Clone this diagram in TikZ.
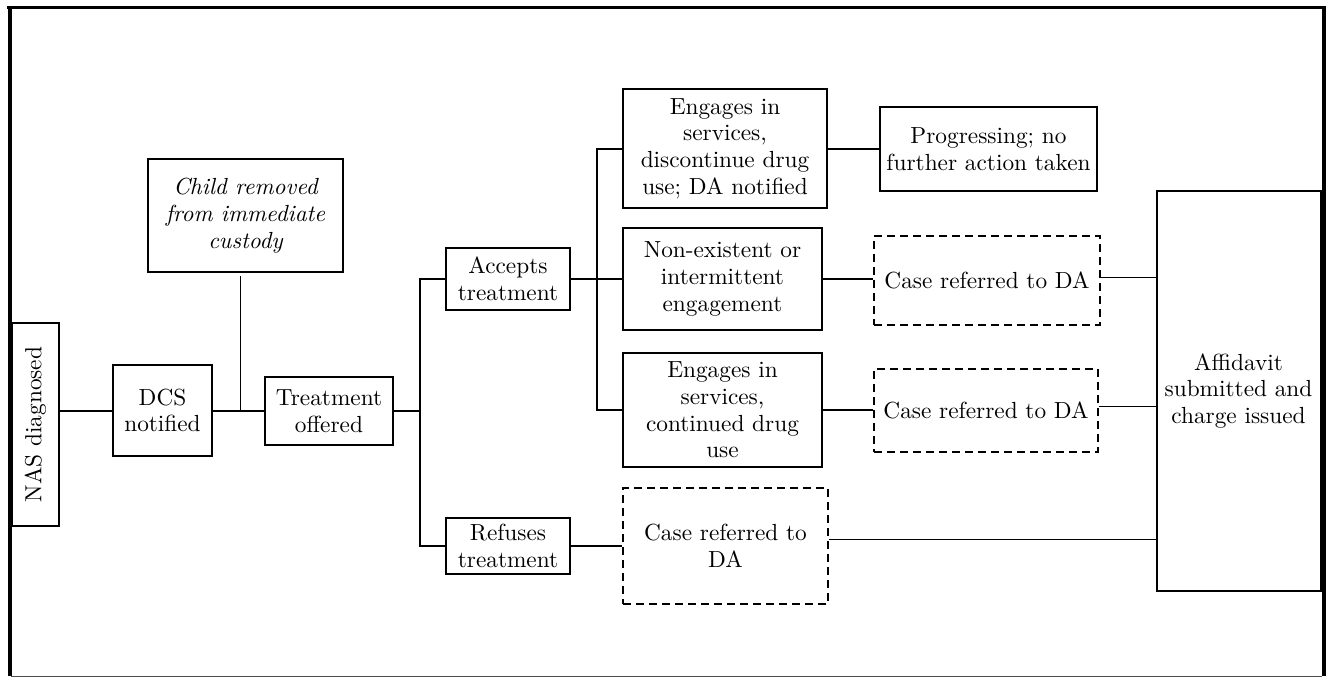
\documentclass[tikz,border=0pt]{standalone}
\usepackage{fontspec}
\setmainfont{lmroman10-regular}[Extension=.otf,ItalicFont=lmroman10-italic]
\usetikzlibrary{calc}
\begin{document}
\begin{tikzpicture}[x=1pt,y=-1pt,
  every node/.style={font=\fontsize{23.3}{26.7}\selectfont},
  box/.style={draw,line width=2pt,inner sep=0pt,align=center},
  dbox/.style={box,dash pattern=on 8pt off 5pt},
  conn/.style={line width=2pt},
  thinconn/.style={line width=1pt}]
\useasboundingbox (0,0) rectangle (1330,677);
% frame
\draw[line width=3pt] (7,8) -- (1326,8);
\draw[line width=4pt] (9.5,6.5) -- (9.5,676);
\draw[line width=4pt] (1324,6.5) -- (1324,676);
\draw[line width=1pt,black!70] (11,676) -- (1322,676);
% nodes
\node[box,rotate=90,minimum width=203pt,minimum height=47pt] (nas) at (35.5,424.5) {NAS diagnosed};
\node[box,minimum width=99pt,minimum height=91pt] (dcs) at (162.5,410.5) {DCS\\notified};
\node[box,minimum width=195pt,minimum height=113pt,font=\fontsize{23.3}{26.7}\selectfont\itshape] (child) at (245.5,215.5) {Child removed\\from immediate\\custody};
\node[box,minimum width=128pt,minimum height=68pt] (treat) at (329,411) {Treatment\\offered};
\node[box,minimum width=124pt,minimum height=62pt] (acc) at (508,279) {Accepts\\treatment};
\node[box,minimum width=124pt,minimum height=56pt] (ref) at (508,546) {Refuses\\treatment};
\node[box,minimum width=204pt,minimum height=119pt] (eng1) at (725,148.5) {Engages in\\services,\\discontinue drug\\use; DA notified};
\node[box,minimum width=199pt,minimum height=102pt] (non) at (722.5,279) {Non-existent or\\intermittent\\engagement};
\node[box,minimum width=199pt,minimum height=114pt] (eng2) at (722.5,410) {Engages in\\services,\\continued drug\\use};
\node[dbox,minimum width=205pt,minimum height=116pt] (case0) at (725.5,546) {Case referred to\\DA};
\node[box,minimum width=217pt,minimum height=84pt] (prog) at (988.5,149) {Progressing; no\\further action taken};
\node[dbox,minimum width=226pt,minimum height=89pt] (case1) at (987,280.5) {Case referred to DA};
\node[dbox,minimum width=224pt,minimum height=83pt] (case2) at (986,410.5) {Case referred to DA};
\node[box,minimum width=164pt,minimum height=400pt] (aff) at (1238.5,391) {Affidavit\\submitted and\\charge issued};
% junction coordinates
\coordinate (j1) at (240,410.5);
\coordinate (b1) at (419.5,411);
\coordinate (b2) at (597,279);
% connectors
\draw[conn] (nas.south |- dcs.west) -- (dcs.west);
\draw[conn] (dcs.east) -- (dcs.east -| treat.west);
\draw[thinconn] ($(child.south -| j1)+(0,3)$) -- (j1);
\draw[conn] (treat.east) -- (b1);
\draw[conn] (acc.west) -| (b1) |- (ref.west);
\draw[conn] (acc.east) -- (b2);
\draw[conn] (eng1.west) -| (b2) |- (eng2.west);
\draw[conn] (b2) -- (non.west);
\draw[conn] (eng1.east) -- (eng1.east -| prog.west);
\draw[conn] (non.east) -- (non.east -| case1.west);
\draw[conn] (eng2.east) -- (eng2.east -| case2.west);
\draw[conn] (ref.east) -- (case0.west);
\draw[thinconn] ([yshift=3pt]case1.east) -- ([yshift=3pt]case1.east -| aff.west);
\draw[thinconn] ([yshift=4pt]case2.east) -- ([yshift=4pt]case2.east -| aff.west);
\draw[thinconn] ([yshift=7pt]case0.east) -- ([yshift=7pt]case0.east -| aff.west);
\end{tikzpicture}
\end{document}
